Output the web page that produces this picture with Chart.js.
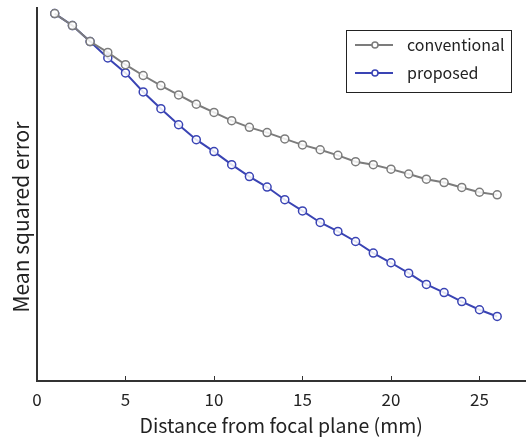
<!DOCTYPE html>
<html>
<head>
<meta charset="utf-8">
<script src="https://cdn.jsdelivr.net/npm/chart.js@4"></script>
<style>
html,body{margin:0;padding:0;background:#fff;}
#wrap{width:531px;height:437px;position:relative;}
</style>
</head>
<body>
<div id="wrap"><canvas id="c" width="531" height="437"></canvas></div>
<script>
const distances = [1,2,3,4,5,6,7,8,9,10,11,12,13,14,15,16,17,18,19,20,21,22,23,24,25,26];
const conventional = [98.5,95.3,91.0,88.1,84.8,81.9,79.2,76.7,74.2,72.0,69.8,68.0,66.6,64.9,63.3,62.0,60.5,58.8,58.0,56.8,55.5,54.1,53.2,51.9,50.6,49.9];
const proposed = [98.5,95.3,91.0,86.6,82.6,77.5,73.0,68.7,64.7,61.5,58.0,54.8,52.0,48.6,45.6,42.5,40.1,37.4,34.3,31.7,28.9,25.9,23.7,21.3,19.1,17.3];
const xTickLabels = [0,5,10,15,20,25];
const seriesNames = ["conventional","proposed"];
const seriesColors = ["#7c7c7c","#3a44b4"];
const xTitle = "Distance from focal plane (mm)";
const yTitle = "Mean squared error";

const FONT = "'Noto Sans CJK JP','Noto Sans',sans-serif";

const legendPlugin = {
  id:'boxLegend',
  afterDraw(chart){
    const ctx = chart.ctx;
    ctx.save();
    const bx=346.5, by=30.5, bw=165, bh=62;
    ctx.fillStyle='#fff';
    ctx.fillRect(bx,by,bw,bh);
    ctx.strokeStyle='#222';
    ctx.lineWidth=1;
    ctx.strokeRect(bx,by,bw,bh);
    const rows=[45,73];
    chart.data.datasets.forEach((ds,i)=>{
      const y=rows[i];
      ctx.strokeStyle=ds.borderColor;
      ctx.lineWidth=2;
      ctx.beginPath();ctx.moveTo(355,y);ctx.lineTo(393,y);ctx.stroke();
      ctx.fillStyle='#fff';
      ctx.lineWidth=1.5;
      ctx.beginPath();ctx.arc(375,y,3,0,Math.PI*2);ctx.fill();ctx.stroke();
      ctx.fillStyle='#222';
      ctx.font='16px '+FONT;
      ctx.textBaseline='middle';
      ctx.textAlign='left';
      ctx.fillText(ds.label,407,y);
    });
    ctx.restore();
  }
};

const yTitlePlugin = {
  id:'yTitle',
  afterDraw(chart){
    const ctx=chart.ctx;
    ctx.save();
    ctx.translate(21,217);
    ctx.rotate(-Math.PI/2);
    ctx.fillStyle='#222';
    ctx.font='21px '+FONT;
    ctx.textAlign='center';
    ctx.textBaseline='middle';
    ctx.fillText(yTitle,0,0);
    ctx.restore();
  }
};

const innerTicks = {
  id:'innerTicks',
  afterDatasetsDraw(chart){
    const ctx=chart.ctx, xs=chart.scales.x, area=chart.chartArea;
    ctx.save();
    ctx.strokeStyle='#333';
    ctx.lineWidth=1;
    xs.ticks.forEach(t=>{
      if(t.value===0) return;
      const px=Math.round(xs.getPixelForValue(t.value))+0.5;
      ctx.beginPath();ctx.moveTo(px,area.bottom);ctx.lineTo(px,area.bottom-5);ctx.stroke();
    });
    ctx.restore();
  }
};

new Chart(document.getElementById('c'),{
  type:'line',
  data:{
    datasets:[
      {label:seriesNames[0],data:distances.map((d,i)=>({x:d,y:conventional[i]})),borderColor:seriesColors[0],borderWidth:2,pointRadius:4,pointBorderWidth:1.5,pointBackgroundColor:'rgba(255,255,255,0.85)',tension:0},
      {label:seriesNames[1],data:distances.map((d,i)=>({x:d,y:proposed[i]})),borderColor:seriesColors[1],borderWidth:2,pointRadius:4,pointBorderWidth:1.5,pointBackgroundColor:'rgba(255,255,255,0.85)',tension:0}
    ]
  },
  options:{
    responsive:false,
    animation:false,
    layout:{padding:{left:0,right:0,top:8,bottom:0}},
    plugins:{legend:{display:false},tooltip:{enabled:false}},
    scales:{
      x:{
        type:'linear',min:0,max:27.6,
        afterBuildTicks(s){ s.ticks = xTickLabels.map(v=>({value:v})); },
        afterFit(s){ s.height=56; },
        grid:{display:true,drawOnChartArea:false,drawTicks:false},
        border:{display:true,color:'#333',width:2},
        ticks:{color:'#222',font:{family:FONT,size:17},padding:8,maxRotation:0,autoSkip:false},
        title:{display:true,text:xTitle,color:'#222',font:{family:FONT,size:19.5},padding:{top:0,bottom:0}}
      },
      y:{
        type:'linear',min:0,max:100,
        afterFit(s){ s.width=37; },
        grid:{display:false,drawTicks:false},
        border:{display:true,color:'#333',width:2},
        ticks:{display:false},
        title:{display:false}
      }
    }
  },
  plugins:[innerTicks,legendPlugin,yTitlePlugin]
});
</script>
</body>
</html>
